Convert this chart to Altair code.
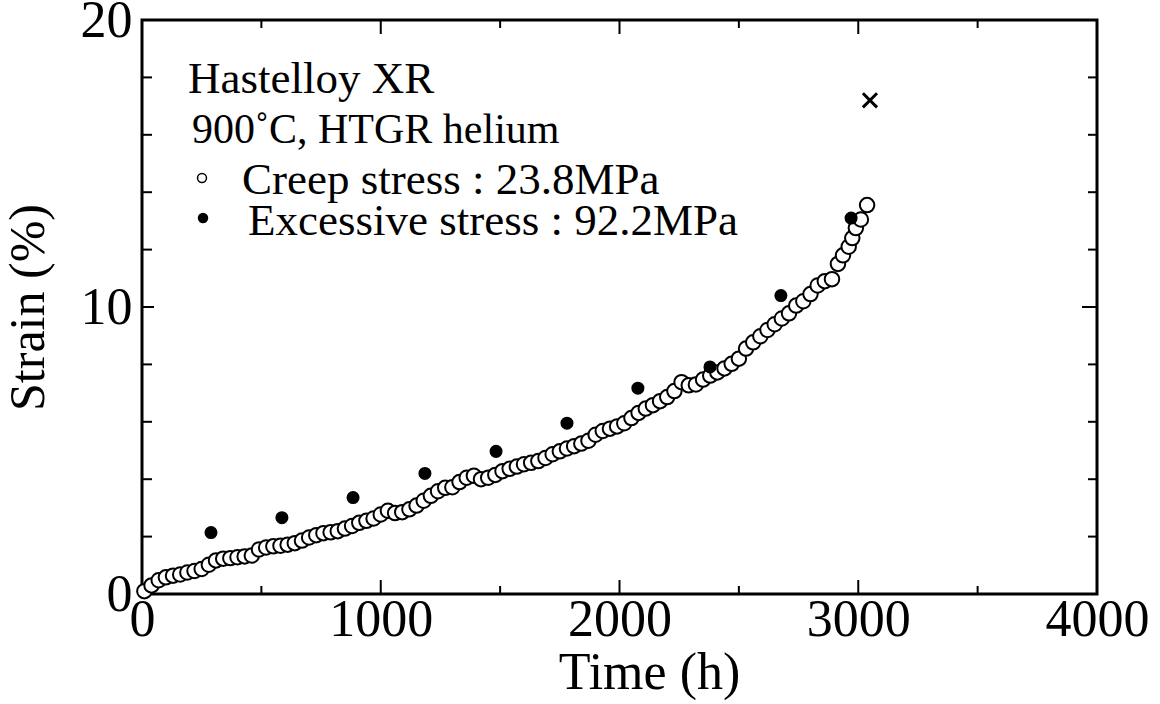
import altair as alt
import pandas as pd

# ---------------- data ----------------
creep_time = [10, 40, 70, 100, 130, 160, 190, 220, 250, 280, 310, 340, 370, 400, 430, 460,
              490, 520, 550, 580, 610, 640, 670, 700, 730, 760, 790, 820, 850, 880, 910, 940,
              970, 1000, 1030, 1060, 1090, 1120, 1150, 1180, 1210, 1240, 1270, 1300, 1330,
              1360, 1390, 1420, 1450, 1480, 1510, 1540, 1570, 1600, 1630, 1660, 1690, 1720,
              1750, 1780, 1810, 1840, 1870, 1900, 1930, 1960, 1990, 2020, 2050, 2080, 2110,
              2140, 2170, 2200, 2230, 2260, 2290, 2320, 2350, 2380, 2410, 2440, 2470, 2500,
              2530, 2560, 2590, 2620, 2650, 2680, 2710, 2740, 2770, 2800, 2830, 2860, 2890,
              2915, 2936, 2960, 2975, 2990, 3011, 3037]
creep_strain = [0.10, 0.30, 0.48, 0.58, 0.64, 0.68, 0.75, 0.80, 0.87, 1.02, 1.17, 1.23, 1.25,
                1.28, 1.31, 1.34, 1.55, 1.62, 1.66, 1.68, 1.72, 1.77, 1.86, 1.97, 2.05, 2.12,
                2.15, 2.19, 2.28, 2.37, 2.48, 2.55, 2.63, 2.77, 2.90, 2.82, 2.85, 2.95, 3.08,
                3.25, 3.42, 3.58, 3.70, 3.72, 3.90, 4.05, 4.12, 4.00, 4.05, 4.15, 4.28, 4.36,
                4.44, 4.52, 4.57, 4.63, 4.74, 4.87, 4.97, 5.07, 5.15, 5.24, 5.34, 5.55, 5.68,
                5.76, 5.84, 5.95, 6.13, 6.31, 6.46, 6.58, 6.72, 6.86, 7.07, 7.38, 7.27, 7.30,
                7.47, 7.61, 7.72, 7.86, 8.02, 8.20, 8.55, 8.77, 8.98, 9.20, 9.40, 9.60, 9.78,
                10.05, 10.20, 10.45, 10.75, 10.90, 10.97, 11.5, 11.8, 12.1, 12.4, 12.75, 13.05,
                13.55]

excess_time = [289, 586, 884, 1185, 1483, 1780, 2077, 2379, 2676, 2970]
excess_strain = [2.14, 2.66, 3.36, 4.20, 4.97, 5.95, 7.17, 7.91, 10.4, 13.1]

rupture_time = [3049]
rupture_strain = [17.2]

x_tick_labels = [0, 1000, 2000, 3000, 4000]
y_tick_labels = [0, 10, 20]
x_major_ticks = [1000, 2000, 3000]
x_minor_ticks = [500, 1500, 2500, 3500]
y_major_ticks = [10]
y_minor_ticks = [2, 4, 6, 8, 12, 14, 16, 18]

note_lines = ["Hastelloy XR", "900˚C, HTGR helium"]
legend_labels = ["Creep stress : 23.8MPa", "Excessive stress : 92.2MPa"]

# ---------------- chart ----------------
W, H = 955, 574
FONT = "Liberation Serif"
xs = alt.Scale(domain=[0, 4000], nice=False, zero=False)
ys = alt.Scale(domain=[0, 20], nice=False, zero=False)

x_axis = alt.Axis(values=x_tick_labels, format="d", ticks=False, tickSize=0, domain=False,
                  grid=False, labelFont=FONT, labelFontSize=52, labelColor="black",
                  labelPadding=0, labelFlush=False, labelOverlap=False,
                  title="Time (h)", titleFont=FONT, titleFontSize=52, titleFontWeight="normal",
                  titleColor="black", titleX=507, titleY=94, titleAlign="center",
                  titleBaseline="alphabetic")
y_axis = alt.Axis(values=y_tick_labels, format="d", ticks=False, tickSize=0, domain=False,
                  grid=False, labelFont=FONT, labelFontSize=52, labelColor="black",
                  labelPadding=10, labelFlush=False, labelOverlap=False,
                  title="Strain (%)", titleFont=FONT, titleFontSize=50, titleFontWeight="normal",
                  titleColor="black", titleX=-99, titleY=287, titleAlign="center",
                  titleBaseline="alphabetic", titleAngle=270)

X = lambda: alt.X("time:Q", scale=xs, axis=x_axis)
Y = lambda: alt.Y("strain:Q", scale=ys, axis=y_axis)

creep_df = pd.DataFrame({"time": creep_time, "strain": creep_strain})
excess_df = pd.DataFrame({"time": excess_time, "strain": excess_strain})
rupture_df = pd.DataFrame({"time": rupture_time, "strain": rupture_strain})

creep = alt.Chart(creep_df).mark_point(
    shape="circle", filled=True, fill="white", stroke="black", strokeWidth=2,
    size=210, opacity=1
).encode(x=X(), y=Y())

excess = alt.Chart(excess_df).mark_point(
    shape="circle", filled=True, color="black", size=170, opacity=1
).encode(x=X(), y=Y())

rupture = alt.Chart(rupture_df).mark_point(
    shape="M-1,-1L1,1M-1,1L1,-1", filled=False, stroke="black", strokeWidth=3,
    size=200, opacity=1
).encode(x=X(), y=Y())

def xticks(vals, length, top):
    df = pd.DataFrame({"time": vals})
    if top:
        y1, y2 = 0, length
    else:
        y1, y2 = H, H - length
    return alt.Chart(df).mark_rule(color="black", strokeWidth=2).encode(
        x=X(), y=alt.value(y1), y2=alt.value(y2))

def yticks(vals, length, right):
    df = pd.DataFrame({"strain": vals})
    if right:
        x1, x2 = W, W - length
    else:
        x1, x2 = 0, length
    return alt.Chart(df).mark_rule(color="black", strokeWidth=2).encode(
        y=Y(), x=alt.value(x1), x2=alt.value(x2))

tick_layers = [
    xticks(x_major_ticks, 14, False), xticks(x_minor_ticks, 8, False),
    xticks(x_major_ticks, 14, True), xticks(x_minor_ticks, 8, True),
    yticks(y_major_ticks, 12, False), yticks(y_minor_ticks, 10, False),
    yticks(y_major_ticks, 15, True), yticks(y_minor_ticks, 9, True),
]

def text_line(txt, px, py, size):
    return alt.Chart(pd.DataFrame({"label": [txt]})).mark_text(
        align="left", baseline="alphabetic", font=FONT, fontSize=size, color="black"
    ).encode(text="label:N", x=alt.value(px), y=alt.value(py))

notes = [
    text_line(note_lines[0], 46, 73, 45),
    text_line(note_lines[1], 50, 123, 42),
    text_line(legend_labels[0], 100, 174, 45),
    text_line(legend_labels[1], 106, 215, 45),
]

one = pd.DataFrame({"k": [0]})
leg_open = alt.Chart(one).mark_point(
    shape="circle", filled=True, fill="white", stroke="black", strokeWidth=1.5, size=80, opacity=1
).encode(x=alt.value(60), y=alt.value(158))
leg_fill = alt.Chart(one).mark_point(
    shape="circle", filled=True, color="black", size=110, opacity=1
).encode(x=alt.value(61), y=alt.value(198))

chart = alt.layer(
    creep, excess, rupture, *tick_layers, *notes, leg_open, leg_fill
).properties(
    width=W, height=H,
    autosize=alt.AutoSizeParams(type="none"),
    padding={"left": 142, "top": 20, "right": 1160 - 142 - W, "bottom": 704 - 20 - H},
    background="white",
).configure_view(
    stroke="black", strokeWidth=3
)

chart.save("out.html", embed_options={"renderer": "svg", "actions": False})
